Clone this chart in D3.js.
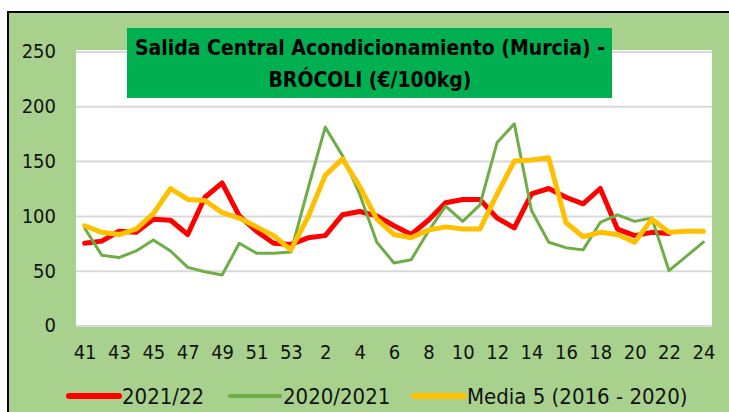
<!DOCTYPE html>
<html>
<head>
<meta charset="utf-8">
<script src="https://cdn.jsdelivr.net/npm/d3@7"></script>
<style>
  body { margin: 0; background: #fff; }
  svg { display: block; }
</style>
</head>
<body>
<script>
// semanas (41..53 de 2021, 1..24 de 2022)
var weeks = ["41","42","43","44","45","46","47","48","49","50","51","52","53",
             "1","2","3","4","5","6","7","8","9","10","11","12","13","14","15","16","17","18","19","20","21","22","23","24"];
var yTicks = [0, 50, 100, 150, 200, 250];

var s2122 = [75, 77, 86, 85, 97, 96, 83, 117, 130, 100, 86, 75, 74,
             80, 82, 101, 104, 100, 91, 83, 96, 112, 115, 115, 98, 89, 120, 125, 117, 111, 125, 88, 82, 85, 84];
var s2021 = [89, 64, 62, 68, 78, 68, 53, 49, 46, 75, 66, 66, 67,
             125, 181, 155, 120, 76, 57, 60, 86, 109, 95, 110, 167, 184, 105, 76, 71, 69, 94, 101, 95, 98, 50, 63, 76];
var media5 = [91, 85, 83, 88, 102, 125, 115, 114, 103, 98, 90, 82, 69,
              99, 137, 152, 127, 97, 83, 80, 87, 90, 88, 88, 120, 150, 151, 153, 94, 81, 85, 83, 76, 97, 85, 86, 86];

var W = 729, H = 412;
var font = "'Liberation Sans Narrow', 'Arial Narrow', 'DejaVu Sans Condensed', sans-serif";

var svg = d3.select("body").append("svg")
    .attr("width", W)
    .attr("height", H);

// fondo verde con borde negro
svg.append("rect")
    .attr("x", 8).attr("y", 12)
    .attr("width", W + 10).attr("height", H + 10)
    .attr("fill", "#A9D18E")
    .attr("stroke", "#000")
    .attr("stroke-width", 2);

var pLeft = 76, pRight = 712, pTop = 51.5, pBottom = 325.5;

svg.append("rect")
    .attr("x", pLeft).attr("y", 50)
    .attr("width", pRight - pLeft).attr("height", 277)
    .attr("fill", "#fff");

var x = d3.scalePoint()
    .domain(weeks)
    .range([pLeft, pRight])
    .padding(0.5);

var y = d3.scaleLinear()
    .domain([0, 250])
    .range([pBottom, pTop]);

// eje y + rejilla
var yAxis = svg.append("g")
    .attr("transform", "translate(" + pLeft + ",0)")
    .call(d3.axisLeft(y).tickValues(yTicks).tickSize(-(pRight - pLeft)).tickPadding(20));
yAxis.select(".domain").remove();
yAxis.selectAll(".tick line").attr("stroke", "#D9D9D9").attr("stroke-width", 2);
yAxis.selectAll(".tick text")
    .attr("font-family", font)
    .attr("font-size", "20px")
    .attr("fill", "#111");

// eje x
var xAxis = svg.append("g")
    .attr("transform", "translate(0," + 342 + ")")
    .call(d3.axisBottom(x)
        .tickValues(weeks.filter(function(d, i) { return i % 2 == 0; }))
        .tickSize(0));
xAxis.select(".domain").remove();
xAxis.selectAll(".tick text")
    .attr("font-family", font)
    .attr("font-size", "20px")
    .attr("fill", "#111");

var series = [
    { name: "2021/22", values: s2122, color: "#FF0000", width: 5 },
    { name: "2020/2021", values: s2021, color: "#70AD47", width: 3 },
    { name: "Media 5 (2016 - 2020)", values: media5, color: "#FFC000", width: 5 }
];

var line = d3.line()
    .x(function(d, i) { return x(weeks[i]); })
    .y(function(d) { return y(d); });

svg.selectAll("path.serie")
    .data(series)
    .enter()
    .append("path")
    .attr("class", "serie")
    .attr("d", function(d) { return line(d.values); })
    .attr("fill", "none")
    .attr("stroke", function(d) { return d.color; })
    .attr("stroke-width", function(d) { return d.width; })
    .attr("stroke-linejoin", "round")
    .attr("stroke-linecap", "round");

// titulo
svg.append("rect")
    .attr("x", 127).attr("y", 28)
    .attr("width", 485).attr("height", 70)
    .attr("fill", "#00B050");

var titleLines = [
    { t: "Salida Central Acondicionamiento (Murcia) -", y: 54.5, len: 470 },
    { t: "BRÓCOLI (€/100kg)", y: 87, len: 203 }
];
svg.selectAll("text.title")
    .data(titleLines)
    .enter()
    .append("text")
    .attr("class", "title")
    .attr("x", 370)
    .attr("y", function(d) { return d.y; })
    .attr("text-anchor", "middle")
    .attr("font-family", font)
    .attr("font-weight", "bold")
    .attr("font-size", "22px")
    .attr("textLength", function(d) { return d.len; })
    .attr("lengthAdjust", "spacingAndGlyphs")
    .attr("fill", "#000")
    .text(function(d) { return d.t; });

// leyenda
var legendX = [67, 228, 412];
var leg = svg.selectAll("g.leg")
    .data(series)
    .enter()
    .append("g")
    .attr("class", "leg")
    .attr("transform", function(d, i) { return "translate(" + legendX[i] + ",396)"; });

leg.append("line")
    .attr("x1", 2).attr("x2", 52)
    .attr("y1", 0).attr("y2", 0)
    .attr("stroke", function(d) { return d.color; })
    .attr("stroke-width", function(d) { return d.width + 1; })
    .attr("stroke-linecap", "round");

leg.append("text")
    .attr("x", 55)
    .attr("y", 8)
    .attr("font-family", font)
    .attr("font-size", "22px")
    .attr("fill", "#111")
    .text(function(d) { return d.name; });
</script>
</body>
</html>
